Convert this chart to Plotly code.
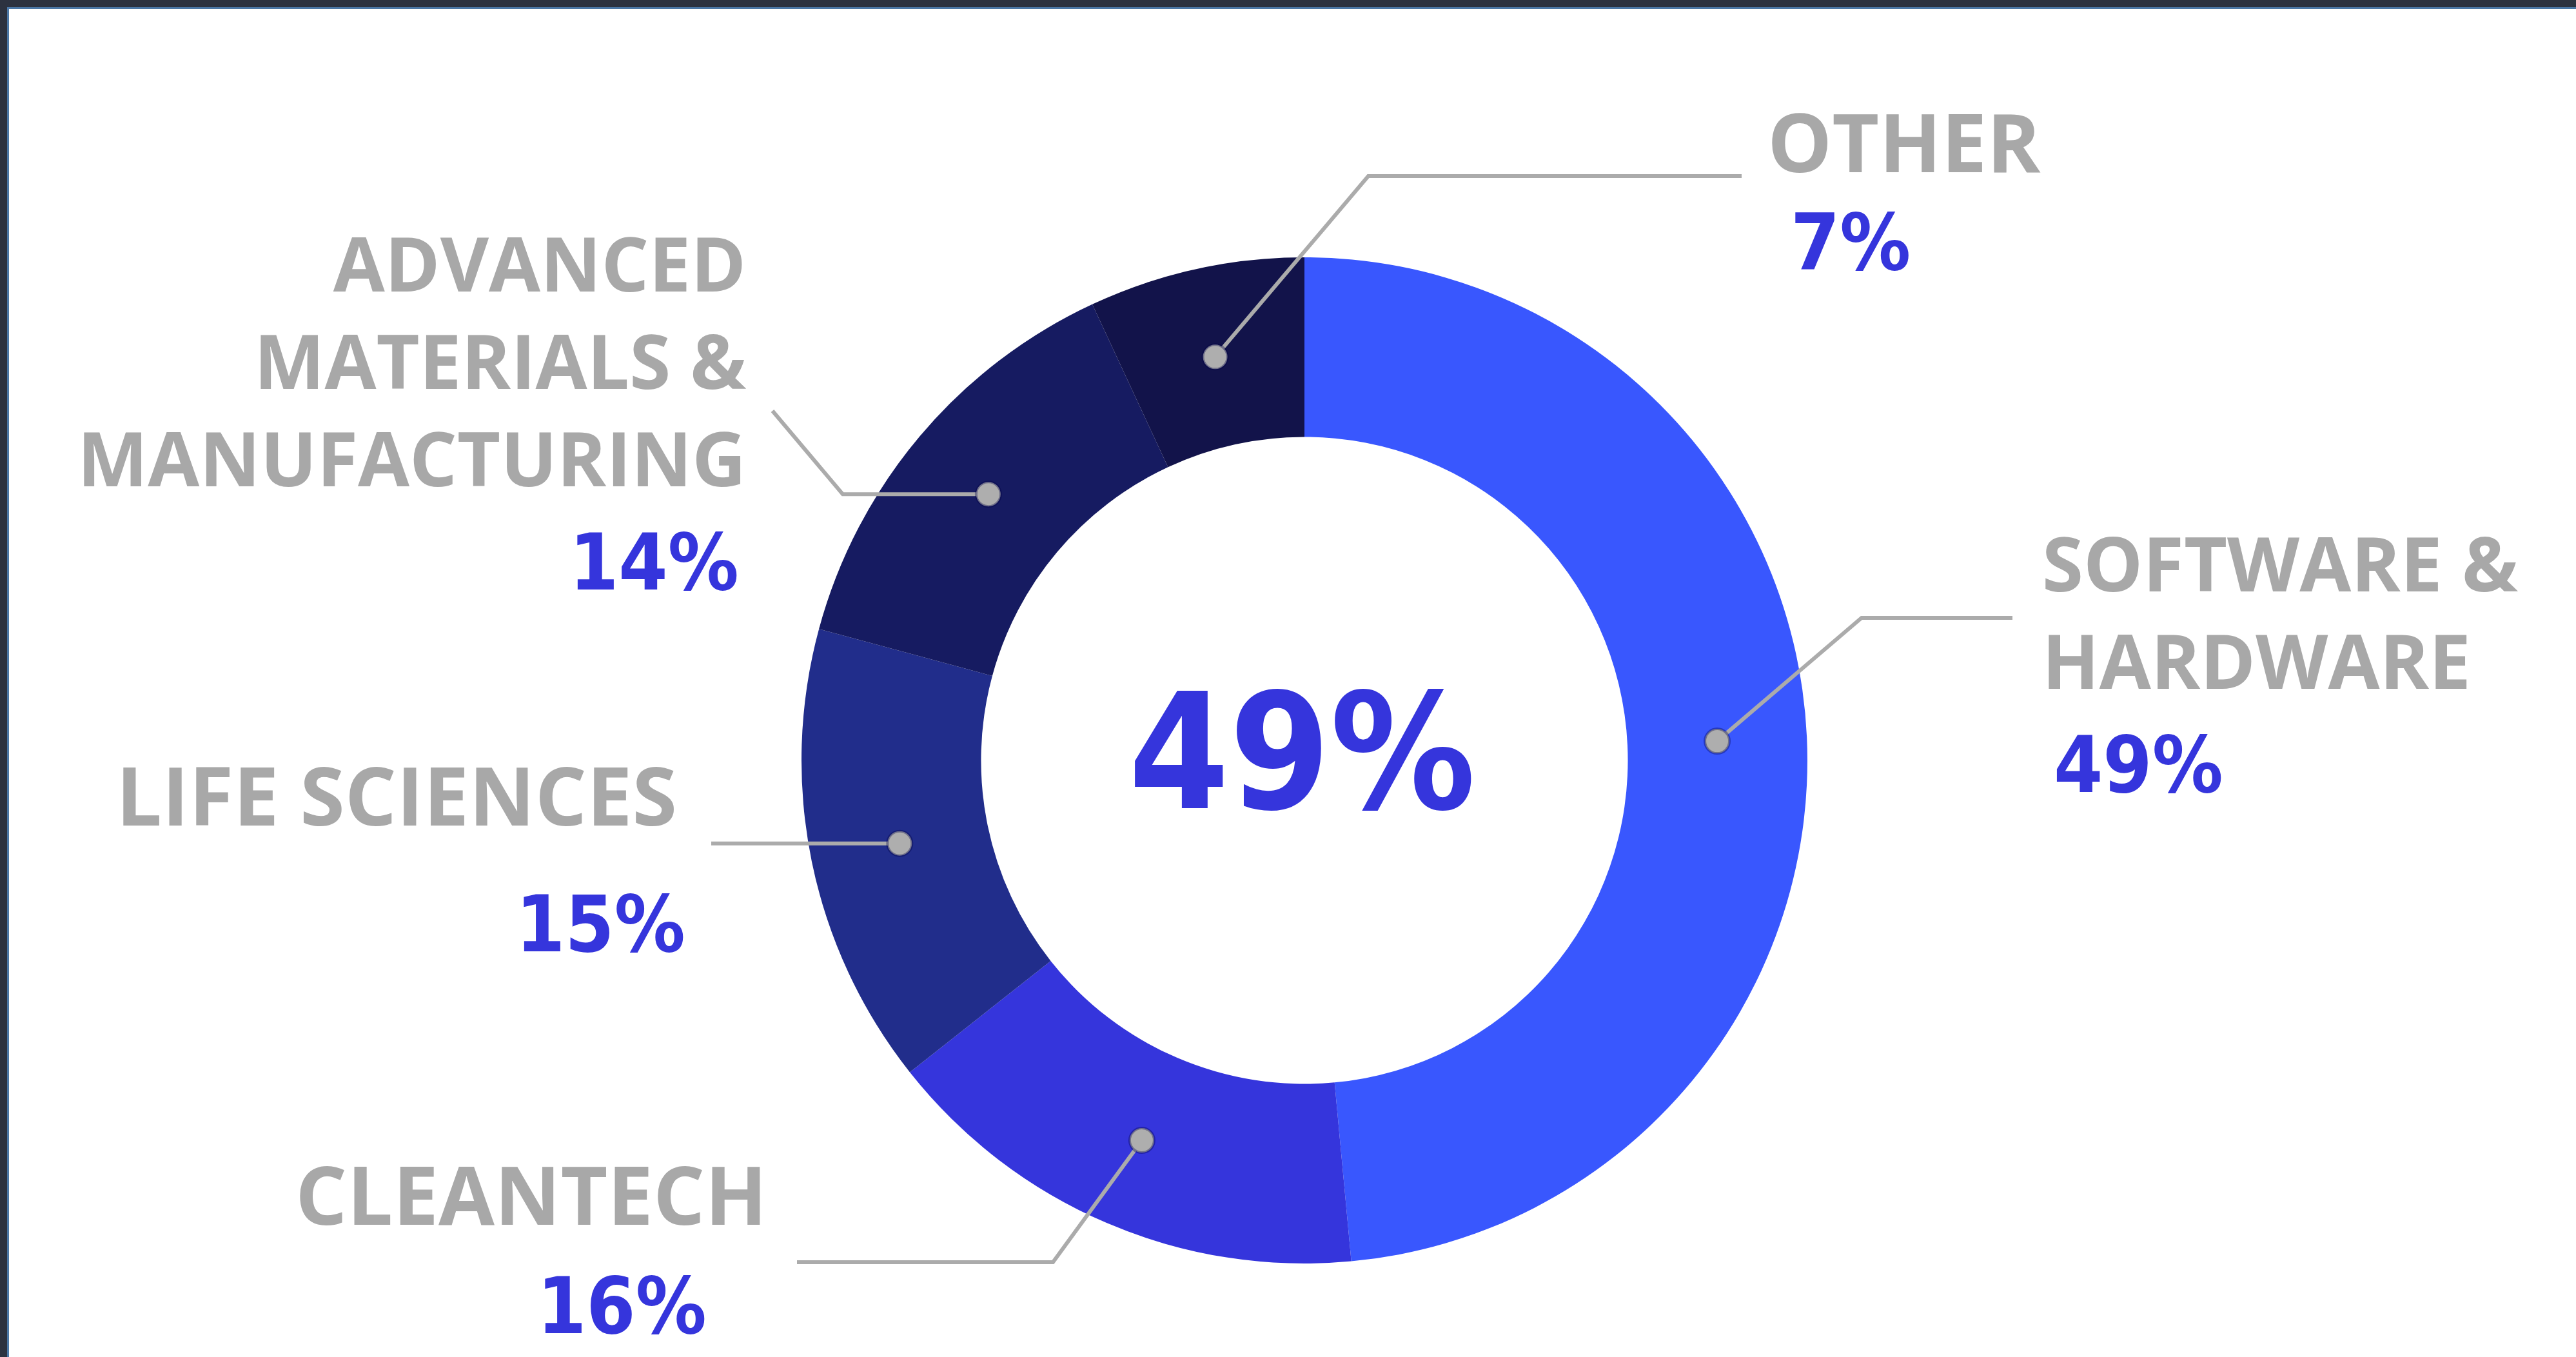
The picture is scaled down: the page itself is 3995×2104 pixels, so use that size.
import math
import plotly.graph_objects as go

# ---- data -------------------------------------------------------------
sectors = ["SOFTWARE & HARDWARE", "CLEANTECH", "LIFE SCIENCES",
           "ADVANCED MATERIALS & MANUFACTURING", "OTHER"]
shares = [49, 16, 15, 14, 7]
slice_colors = ["#3957FE", "#3535DC", "#212D8B", "#161B61", "#12134A"]
headline_value = 49

# ---- canvas geometry (pixels, y measured from the top) ----------------
W, H = 3995, 2104
CX, CY, R = 2023, 1179, 780
HOLE = 0.643

GRAY_TEXT = "#A8A8A8"
GRAY_LINE = "#ABABAB"
PCT_COLOR = "#3535DC"
LABEL_FONT = "Open Sans"
PCT_FONT = "DejaVu Sans Condensed"


def px(x):
    return x / W


def py(y):
    return 1 - y / H


fig = go.Figure()

fig.add_trace(go.Pie(
    labels=sectors,
    values=shares,
    sort=False,
    direction="clockwise",
    rotation=0,
    hole=HOLE,
    marker=dict(colors=slice_colors, line=dict(width=0)),
    textinfo="none",
    hoverinfo="label+percent",
    showlegend=False,
    domain=dict(x=[px(CX - R), px(CX + R)], y=[py(CY + R), py(CY - R)]),
))

# anchor dot of each leader line sits mid-slice, mid-ring
total = sum(shares)
r_mid = R * (1 + HOLE) / 2
dots = []
acc = 0
for v in shares:
    mid = (acc + v / 2) / total * 2 * math.pi
    dots.append((CX + r_mid * math.sin(mid), CY - r_mid * math.cos(mid)))
    acc += v

# leader-line bends / ends per sector (same order as sectors);
# a None y keeps the line level with the dot
bends = [
    [(2887, 958), (3121, 958)],       # software: up-right, then right
    [(1633, 1957), (1236, 1957)],     # cleantech: down-left, then left
    [(1103, None)],                   # life sciences: straight left
    [(1307, None), (1198, 637)],      # advanced: left, then up-left
    [(2122, 273), (2701, 273)],       # other: up-right, then right
]

shapes = []
for (dx, dy), pts in zip(dots, bends):
    path_pts = [(dx, dy)]
    for (bx, by) in pts:
        path_pts.append((bx, dy if by is None else by))
    d = "M " + " L ".join(f"{px(x):.5f},{py(y):.5f}" for x, y in path_pts)
    shapes.append(dict(type="path", xref="paper", yref="paper", path=d,
                       line=dict(color=GRAY_LINE, width=6), layer="above"))
for dx, dy in dots:
    rr = 19
    shapes.append(dict(type="circle", xref="paper", yref="paper",
                       x0=px(dx - rr), x1=px(dx + rr),
                       y0=py(dy + rr), y1=py(dy - rr),
                       fillcolor="#AEAEAE",
                       line=dict(color="rgba(0,0,70,0.35)", width=4),
                       layer="above"))

# frame along the top and left edges
shapes += [
    dict(type="rect", xref="paper", yref="paper", x0=0, x1=1,
         y0=py(11), y1=1, fillcolor="#2C3240", line=dict(width=0)),
    dict(type="rect", xref="paper", yref="paper", x0=0, x1=px(11),
         y0=0, y1=1, fillcolor="#2C3240", line=dict(width=0)),
    dict(type="rect", xref="paper", yref="paper", x0=px(11), x1=1,
         y0=py(14), y1=py(11), fillcolor="#4B77A6", line=dict(width=0)),
    dict(type="rect", xref="paper", yref="paper", x0=px(11), x1=px(14),
         y0=0, y1=py(11), fillcolor="#4B77A6", line=dict(width=0)),
]

annotations = []


def label(text, x, y, anchor, size=126):
    annotations.append(dict(
        text=text, x=px(x), y=py(y - 5), xref="paper", yref="paper",
        xanchor=anchor, yanchor="middle", showarrow=False,
        align="left" if anchor == "left" else "right",
        font=dict(family=LABEL_FONT, size=size, color=GRAY_TEXT,
                  weight="bold")))


def pct(value, x, y, size=122):
    annotations.append(dict(
        text=f"{value}%", x=px(x), y=py(y), xref="paper", yref="paper",
        xanchor="center", yanchor="middle", showarrow=False,
        font=dict(family=PCT_FONT, size=size, color=PCT_COLOR,
                  weight="bold")))


# sector names (printed line breaks kept)
label("OTHER", 2739, 223, "left")
label("SOFTWARE &amp;<br>HARDWARE", 3165, 952, "left", size=116)
label("CLEANTECH", 1192, 1855, "right")
label("LIFE SCIENCES", 1052, 1236, "right")
label("ADVANCED<br>MATERIALS &amp;<br>MANUFACTURING", 1159, 563, "right",
      size=116)

# share values
pct(shares[4], 2870, 376)
pct(shares[0], 3316, 1186)
pct(shares[1], 964, 2025)
pct(shares[2], 931, 1433)
pct(shares[3], 1014, 872)

# headline in the donut hole
pct(headline_value, 2019, 1166, size=250)

fig.update_layout(
    width=W, height=H,
    margin=dict(l=0, r=0, t=0, b=0),
    paper_bgcolor="white",
    plot_bgcolor="white",
    shapes=shapes,
    annotations=annotations,
)

fig.write_html("out.html")
